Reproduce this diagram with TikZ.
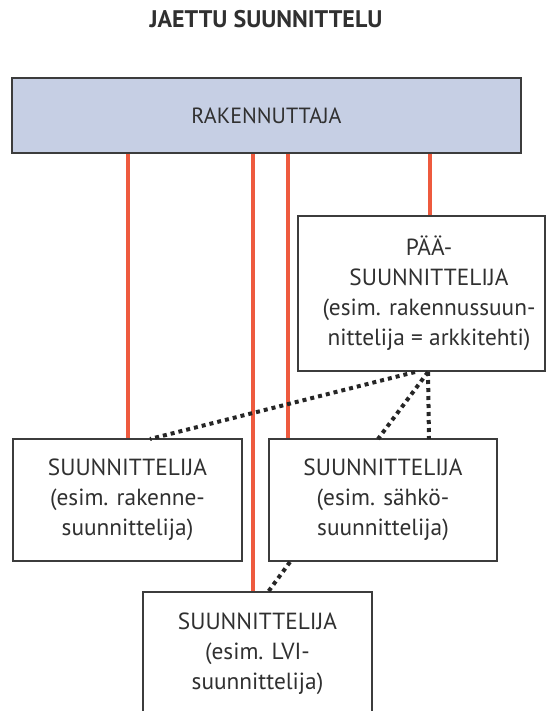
\documentclass[tikz,border=0pt]{standalone}
\usepackage{fontspec}
\setmainfont{PT Sans}
\definecolor{boxline}{HTML}{3C3C3C}
\definecolor{clientfill}{HTML}{C6CFE4}
\definecolor{linkred}{HTML}{EE5A3E}
\definecolor{txt}{HTML}{303030}
\begin{document}
\begin{tikzpicture}[x=0.75pt,y=-0.75pt,
  every node/.style={text=txt, font=\fontsize{17.5pt}{22.5pt}\selectfont, align=center},
  box/.style={draw=boxline, line width=1.6pt, fill=white, inner sep=0pt},
  redline/.style={draw=linkred, line width=3.6pt},
  dotline/.style={draw=black!85, line width=3pt, dash pattern=on 3pt off 3pt}]
\useasboundingbox (0,0) rectangle (553,711);
\clip (0,0) rectangle (553,711);

% title
\node[font=\fontsize{18pt}{20pt}\selectfont\bfseries] (title) at (266,19) {JAETTU SUUNNITTELU};

% x positions of the vertical links
\coordinate (xa) at (128,0);
\coordinate (xb) at (253,0);
\coordinate (xc) at (288,0);
\coordinate (xd) at (430,0);

% boxes
\node[box, fill=clientfill, minimum width=381.75pt, minimum height=56.25pt, font=\fontsize{16.5pt}{18pt}\selectfont] (rak) at (266.5,115.5) {RAKENNUTTAJA};
\node[box, minimum width=185.25pt, minimum height=116.25pt] (paa) at (421.5,293.5) {};
\node (paatext) at (429,293.5) {PÄÄ-\\SUUNNITTELIJA\\(esim. rakennussuun-\\nittelija = arkkitehti)};
\node[box, minimum width=171.75pt, minimum height=91.5pt] (lft) at (127.5,500) {SUUNNITTELIJA\\(esim. rakenne-\\suunnittelija)};
\node[box, minimum width=171pt, minimum height=91.5pt] (rgt) at (383,500) {SUUNNITTELIJA\\(esim. sähkö-\\suunnittelija)};
\node[box, minimum width=171.75pt, minimum height=93pt] (bot) at (257.5,654) {SUUNNITTELIJA\\(esim. LVI-\\suunnittelija)};

% solid links from the client
\draw[redline] (rak.south -| xa) -- (lft.north -| xa);
\draw[redline] (rak.south -| xb) -- (bot.north -| xb);
\draw[redline] (rak.south -| xc) -- (rgt.north -| xc);
\draw[redline] (rak.south -| xd) -- (paa.north -| xd);

% dotted links from the main designer
\coordinate (pa) at (415,372);
\coordinate (pb) at (428,372);
\coordinate (la) at (150,439);
\coordinate (ra) at (378,439);
\coordinate (rb) at (429,439);
\coordinate (rc) at (290,562);
\coordinate (ba) at (268,592);
\draw[dotline] (pa) -- (la);
\draw[dotline] (pb) -- (ra);
\draw[dotline] (pb) -- (rb);
\draw[dotline] (rc) -- (ba);
\end{tikzpicture}
\end{document}
